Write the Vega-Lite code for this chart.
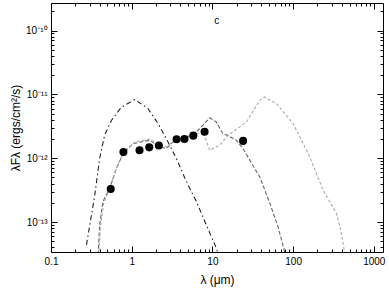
{
  "$schema": "https://vega.github.io/schema/vega-lite/v6.json",
  "width": 332,
  "height": 249,
  "autosize": "none",
  "padding": {"left": 51, "top": 3, "right": 6, "bottom": 37},
  "config": {
    "view": {"stroke": "black", "strokeWidth": 1},
    "axis": {
      "domain": false,
      "grid": false,
      "tickColor": "black",
      "tickWidth": 1,
      "labelFont": "Liberation Sans",
      "labelFontSize": 10,
      "labelColor": "black",
      "titleFont": "Liberation Sans",
      "titleFontSize": 12,
      "titleFontWeight": "normal",
      "titleColor": "black",
      "labelFlush": false,
      "labelOverlap": false
    }
  },
  "datasets": {
    "models": [
      {"lam": 0.275, "flux": 4.4e-14, "model": "stellar"},
      {"lam": 0.302, "flux": 8.9e-14, "model": "stellar"},
      {"lam": 0.348, "flux": 2.6e-13, "model": "stellar"},
      {"lam": 0.401, "flux": 1.0e-12, "model": "stellar"},
      {"lam": 0.462, "flux": 2.3e-12, "model": "stellar"},
      {"lam": 0.56, "flux": 3.9e-12, "model": "stellar"},
      {"lam": 0.745, "flux": 6.3e-12, "model": "stellar"},
      {"lam": 1.09, "flux": 8.3e-12, "model": "stellar"},
      {"lam": 1.59, "flux": 6.0e-12, "model": "stellar"},
      {"lam": 2.12, "flux": 3.5e-12, "model": "stellar"},
      {"lam": 2.82, "flux": 1.8e-12, "model": "stellar"},
      {"lam": 3.58, "flux": 9.9e-13, "model": "stellar"},
      {"lam": 4.76, "flux": 4.3e-13, "model": "stellar"},
      {"lam": 6.34, "flux": 2.1e-13, "model": "stellar"},
      {"lam": 8.43, "flux": 8.9e-14, "model": "stellar"},
      {"lam": 11.2, "flux": 3.9e-14, "model": "stellar"},
      {"lam": 12.5, "flux": 2.5e-14, "model": "stellar"},

      {"lam": 0.38, "flux": 2.5e-14, "model": "emission"},
      {"lam": 0.40, "flux": 8.9e-14, "model": "emission"},
      {"lam": 0.44, "flux": 2.1e-13, "model": "emission"},
      {"lam": 0.53, "flux": 3.3e-13, "model": "emission"},
      {"lam": 0.646, "flux": 6.9e-13, "model": "emission"},
      {"lam": 0.78, "flux": 1.18e-12, "model": "emission"},
      {"lam": 1.04, "flux": 1.7e-12, "model": "emission"},
      {"lam": 1.67, "flux": 1.91e-12, "model": "emission"},
      {"lam": 2.22, "flux": 1.5e-12, "model": "emission"},
      {"lam": 2.69, "flux": 1.42e-12, "model": "emission"},
      {"lam": 3.58, "flux": 2.03e-12, "model": "emission"},
      {"lam": 5.75, "flux": 2.28e-12, "model": "emission"},
      {"lam": 7.65, "flux": 3.3e-12, "model": "emission"},
      {"lam": 9.26, "flux": 4.3e-12, "model": "emission"},
      {"lam": 11.2, "flux": 3.7e-12, "model": "emission"},
      {"lam": 13.5, "flux": 2.4e-12, "model": "emission"},
      {"lam": 15.6, "flux": 2.28e-12, "model": "emission"},
      {"lam": 19.8, "flux": 1.91e-12, "model": "emission"},
      {"lam": 23.9, "flux": 1.42e-12, "model": "emission"},
      {"lam": 31.8, "flux": 7.7e-13, "model": "emission"},
      {"lam": 38.6, "flux": 5.1e-13, "model": "emission"},
      {"lam": 51.3, "flux": 2.0e-13, "model": "emission"},
      {"lam": 65, "flux": 8.5e-14, "model": "emission"},
      {"lam": 78.7, "flux": 3.4e-14, "model": "emission"},
      {"lam": 85, "flux": 2.5e-14, "model": "emission"},

      {"lam": 0.39, "flux": 2.5e-14, "model": "absorption"},
      {"lam": 0.41, "flux": 8.5e-14, "model": "absorption"},
      {"lam": 0.45, "flux": 2.0e-13, "model": "absorption"},
      {"lam": 0.54, "flux": 3.4e-13, "model": "absorption"},
      {"lam": 0.65, "flux": 7.2e-13, "model": "absorption"},
      {"lam": 0.80, "flux": 1.25e-12, "model": "absorption"},
      {"lam": 1.1, "flux": 1.8e-12, "model": "absorption"},
      {"lam": 1.67, "flux": 2.0e-12, "model": "absorption"},
      {"lam": 2.22, "flux": 1.6e-12, "model": "absorption"},
      {"lam": 2.69, "flux": 1.5e-12, "model": "absorption"},
      {"lam": 3.58, "flux": 2.0e-12, "model": "absorption"},
      {"lam": 5.75, "flux": 2.2e-12, "model": "absorption"},
      {"lam": 7.6, "flux": 2.7e-12, "model": "absorption"},
      {"lam": 9.26, "flux": 1.33e-12, "model": "absorption"},
      {"lam": 12.3, "flux": 1.6e-12, "model": "absorption"},
      {"lam": 15.6, "flux": 2.28e-12, "model": "absorption"},
      {"lam": 26.4, "flux": 3.7e-12, "model": "absorption"},
      {"lam": 38.6, "flux": 8.1e-12, "model": "absorption"},
      {"lam": 44.5, "flux": 9.1e-12, "model": "absorption"},
      {"lam": 62, "flux": 7.2e-12, "model": "absorption"},
      {"lam": 100, "flux": 3.5e-12, "model": "absorption"},
      {"lam": 161, "flux": 1.05e-12, "model": "absorption"},
      {"lam": 234, "flux": 3.2e-13, "model": "absorption"},
      {"lam": 344, "flux": 1.37e-13, "model": "absorption"},
      {"lam": 389, "flux": 7.5e-14, "model": "absorption"},
      {"lam": 436, "flux": 3.3e-14, "model": "absorption"},
      {"lam": 440, "flux": 2.5e-14, "model": "absorption"}
    ],
    "phot": [
      {"lam": 0.55, "flux": 3.3e-13},
      {"lam": 0.79, "flux": 1.25e-12},
      {"lam": 1.25, "flux": 1.33e-12},
      {"lam": 1.65, "flux": 1.48e-12},
      {"lam": 2.17, "flux": 1.58e-12},
      {"lam": 3.6, "flux": 1.98e-12},
      {"lam": 4.5, "flux": 2.0e-12},
      {"lam": 5.8, "flux": 2.26e-12},
      {"lam": 8.0, "flux": 2.6e-12},
      {"lam": 24, "flux": 1.87e-12}
    ],
    "label": [{"lam": 11.3, "flux": 1.4e-10, "text": "c"}]
  },
  "layer": [
    {
      "data": {"name": "models"},
      "mark": {"type": "line", "strokeWidth": 1.1, "clip": true},
      "encoding": {
        "x": {
          "field": "lam", "type": "quantitative",
          "scale": {"type": "log", "domain": [0.1, 1300], "nice": false},
          "axis": {
            "title": "λ (μm)",
            "titlePadding": 5,
            "orient": "bottom",
            "values": [0.1,0.2,0.3,0.4,0.5,0.6,0.7,0.8,0.9,1,2,3,4,5,6,7,8,9,10,20,30,40,50,60,70,80,90,100,200,300,400,500,600,700,800,900,1000],
            "format": "~g",
            "labelExpr": "abs(log(datum.value)/LN10 - round(log(datum.value)/LN10)) > 0.001 ? '' : datum.label",
            "tickSize": {"condition": {"test": "abs(log(datum.value)/LN10 - round(log(datum.value)/LN10)) < 0.001", "value": -6}, "value": -3},
            "labelPadding": 10
          }
        },
        "y": {
          "field": "flux", "type": "quantitative",
          "scale": {"type": "log", "domain": [3.4e-14, 2.7e-10], "nice": false},
          "axis": {
            "title": "λFλ (ergs/cm²/s)",
            "titlePadding": 3,
            "orient": "left",
            "values": [4e-14,5e-14,6e-14,7e-14,8e-14,9e-14,1e-13,2e-13,3e-13,4e-13,5e-13,6e-13,7e-13,8e-13,9e-13,1e-12,2e-12,3e-12,4e-12,5e-12,6e-12,7e-12,8e-12,9e-12,1e-11,2e-11,3e-11,4e-11,5e-11,6e-11,7e-11,8e-11,9e-11,1e-10,2e-10],
            "labelExpr": "abs(log(datum.value)/LN10 - round(log(datum.value)/LN10)) > 0.001 ? '' : ('10' + (round(log(datum.value)/LN10) == -10 ? '⁻¹⁰' : round(log(datum.value)/LN10) == -11 ? '⁻¹¹' : round(log(datum.value)/LN10) == -12 ? '⁻¹²' : '⁻¹³'))",
            "tickSize": {"condition": {"test": "abs(log(datum.value)/LN10 - round(log(datum.value)/LN10)) < 0.001", "value": -6}, "value": -3},
            "labelPadding": 10
          }
        },
        "color": {
          "field": "model", "type": "nominal", "legend": null,
          "scale": {"domain": ["stellar", "emission", "absorption"], "range": ["#222222", "#666666", "#aaaaaa"]}
        },
        "strokeDash": {
          "field": "model", "type": "nominal", "legend": null,
          "scale": {"domain": ["stellar", "emission", "absorption"], "range": [[5, 3, 1.5, 3], [4, 2], [3, 2]]}
        }
      }
    },
    {
      "data": {"name": "phot"},
      "mark": {"type": "point", "filled": true, "color": "black", "size": 65, "opacity": 1},
      "encoding": {
        "x": {
          "field": "lam", "type": "quantitative",
          "scale": {"type": "log", "domain": [0.1, 1300], "nice": false},
          "axis": {
            "title": null, "orient": "top", "labels": false,
            "values": [0.1,0.2,0.3,0.4,0.5,0.6,0.7,0.8,0.9,1,2,3,4,5,6,7,8,9,10,20,30,40,50,60,70,80,90,100,200,300,400,500,600,700,800,900,1000],
            "tickSize": {"condition": {"test": "abs(log(datum.value)/LN10 - round(log(datum.value)/LN10)) < 0.001", "value": -6}, "value": -3}
          }
        },
        "y": {
          "field": "flux", "type": "quantitative",
          "scale": {"type": "log", "domain": [3.4e-14, 2.7e-10], "nice": false},
          "axis": {
            "title": null, "orient": "right", "labels": false,
            "values": [4e-14,5e-14,6e-14,7e-14,8e-14,9e-14,1e-13,2e-13,3e-13,4e-13,5e-13,6e-13,7e-13,8e-13,9e-13,1e-12,2e-12,3e-12,4e-12,5e-12,6e-12,7e-12,8e-12,9e-12,1e-11,2e-11,3e-11,4e-11,5e-11,6e-11,7e-11,8e-11,9e-11,1e-10,2e-10],
            "tickSize": {"condition": {"test": "abs(log(datum.value)/LN10 - round(log(datum.value)/LN10)) < 0.001", "value": -6}, "value": -3}
          }
        }
      }
    },
    {
      "data": {"name": "label"},
      "mark": {"type": "text", "font": "Liberation Sans", "fontSize": 10, "color": "black"},
      "encoding": {
        "x": {"field": "lam", "type": "quantitative", "axis": null},
        "y": {"field": "flux", "type": "quantitative", "axis": null},
        "text": {"field": "text"}
      }
    }
  ],
  "resolve": {"axis": {"x": "independent", "y": "independent"}}
}
